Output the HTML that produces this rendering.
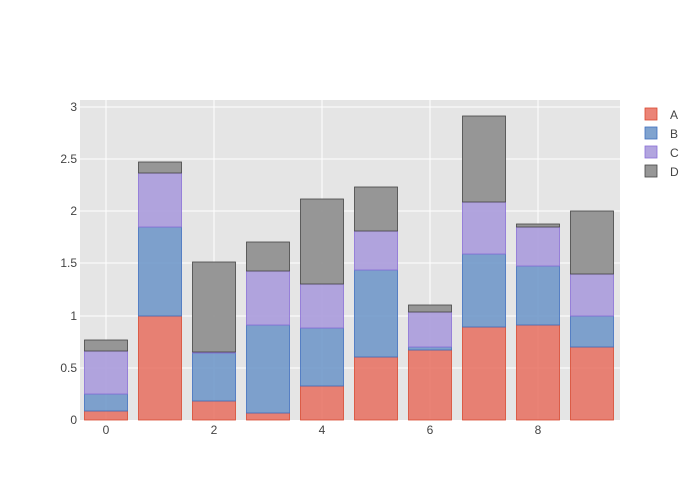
<!DOCTYPE html>
<html><head><style>body{margin:0;background:#fff}svg{display:block}text{font-family:"Liberation Sans",sans-serif;font-size:12px;fill:#444}
.a{fill:rgba(231,110,95,0.85);stroke:#d9482f;stroke-width:0.8}
.b{fill:rgba(110,150,200,0.88);stroke:#3f6fbf;stroke-width:0.8}
.c{fill:rgba(170,155,220,0.9);stroke:#8a6fd8;stroke-width:0.8}
.d{fill:rgba(145,145,145,0.95);stroke:#444;stroke-width:0.8}
</style></head><body>
<svg width="700" height="500" xmlns="http://www.w3.org/2000/svg">
<rect x="80" y="100" width="540" height="320" fill="#e5e5e5"/>
<g stroke="#fff" stroke-width="1">
<line x1="80" x2="620" y1="368" y2="368"/><line x1="80" x2="620" y1="316" y2="316"/><line x1="80" x2="620" y1="263" y2="263"/><line x1="80" x2="620" y1="211" y2="211"/><line x1="80" x2="620" y1="159" y2="159"/><line x1="80" x2="620" y1="107" y2="107"/>
<line x1="106" x2="106" y1="100" y2="420"/><line x1="214" x2="214" y1="100" y2="420"/><line x1="322" x2="322" y1="100" y2="420"/><line x1="430" x2="430" y1="100" y2="420"/><line x1="538" x2="538" y1="100" y2="420"/>
</g>
<g>
<rect class="a" x="84.5" y="411" width="43" height="9"/><rect class="b" x="84.5" y="394" width="43" height="17"/><rect class="c" x="84.5" y="351" width="43" height="43"/><rect class="d" x="84.5" y="340" width="43" height="11"/>
<rect class="a" x="138.5" y="316" width="43" height="104"/><rect class="b" x="138.5" y="227" width="43" height="89"/><rect class="c" x="138.5" y="173" width="43" height="54"/><rect class="d" x="138.5" y="162" width="43" height="11"/>
<rect class="a" x="192.5" y="401" width="43" height="19"/><rect class="b" x="192.5" y="353" width="43" height="48"/><rect class="c" x="192.5" y="352" width="43" height="1"/><rect class="d" x="192.5" y="262" width="43" height="90"/>
<rect class="a" x="246.5" y="413" width="43" height="7"/><rect class="b" x="246.5" y="325" width="43" height="88"/><rect class="c" x="246.5" y="271" width="43" height="54"/><rect class="d" x="246.5" y="242" width="43" height="29"/>
<rect class="a" x="300.5" y="386" width="43" height="34"/><rect class="b" x="300.5" y="328" width="43" height="58"/><rect class="c" x="300.5" y="284" width="43" height="44"/><rect class="d" x="300.5" y="199" width="43" height="85"/>
<rect class="a" x="354.5" y="357" width="43" height="63"/><rect class="b" x="354.5" y="270" width="43" height="87"/><rect class="c" x="354.5" y="231" width="43" height="39"/><rect class="d" x="354.5" y="187" width="43" height="44"/>
<rect class="a" x="408.5" y="350" width="43" height="70"/><rect class="b" x="408.5" y="347" width="43" height="3"/><rect class="c" x="408.5" y="312" width="43" height="35"/><rect class="d" x="408.5" y="305" width="43" height="7"/>
<rect class="a" x="462.5" y="327" width="43" height="93"/><rect class="b" x="462.5" y="254" width="43" height="73"/><rect class="c" x="462.5" y="202" width="43" height="52"/><rect class="d" x="462.5" y="116" width="43" height="86"/>
<rect class="a" x="516.5" y="325" width="43" height="95"/><rect class="b" x="516.5" y="266" width="43" height="59"/><rect class="c" x="516.5" y="227" width="43" height="39"/><rect class="d" x="516.5" y="224" width="43" height="3"/>
<rect class="a" x="570.5" y="347" width="43" height="73"/><rect class="b" x="570.5" y="316" width="43" height="31"/><rect class="c" x="570.5" y="274" width="43" height="42"/><rect class="d" x="570.5" y="211" width="43" height="63"/>
</g>
<g text-anchor="end">
<text x="77" y="424">0</text><text x="77" y="372">0.5</text><text x="77" y="320">1</text><text x="77" y="267">1.5</text><text x="77" y="215">2</text><text x="77" y="163">2.5</text><text x="77" y="111">3</text>
</g>
<g text-anchor="middle">
<text x="106" y="434">0</text><text x="214" y="434">2</text><text x="322" y="434">4</text><text x="430" y="434">6</text><text x="538" y="434">8</text>
</g>
<g>
<rect class="a" x="645" y="108" width="12" height="12"/><text x="670" y="119">A</text>
<rect class="b" x="645" y="127" width="12" height="12"/><text x="670" y="138">B</text>
<rect class="c" x="645" y="146" width="12" height="12"/><text x="670" y="157">C</text>
<rect class="d" x="645" y="165" width="12" height="12"/><text x="670" y="176">D</text>
</g>
</svg>
</body></html>
